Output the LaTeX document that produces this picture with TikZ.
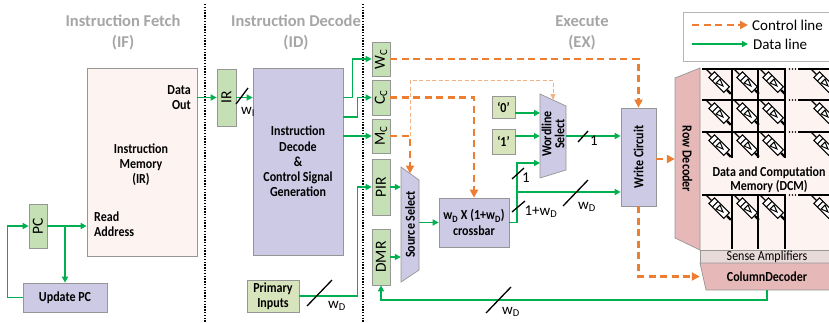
\documentclass[tikz,border=0pt]{standalone}
\usepackage{fontspec}
\setmainfont{Carlito}
\newfontfamily\cf[FakeStretch=0.87,Ligatures=TeX]{Carlito}
\usetikzlibrary{calc,arrows.meta}
\definecolor{dgreen}{RGB}{0,176,80}
\definecolor{dorange}{RGB}{237,125,49}
\definecolor{lorange}{RGB}{244,177,131}
\definecolor{regfill}{RGB}{197,224,180}
\definecolor{ylfill}{RGB}{216,228,188}
\definecolor{lavfill}{RGB}{204,202,228}
\definecolor{pinkbg}{RGB}{253,243,241}
\definecolor{rdfill}{RGB}{230,185,184}
\definecolor{safill}{RGB}{232,218,217}
\definecolor{ttl}{RGB}{166,166,166}
\definecolor{bord}{RGB}{150,150,150}
\tikzset{
 box/.style={draw=bord, line width=0.7pt, inner sep=0pt, align=center, font=\cf\bfseries\fontsize{13.8}{15.3}\selectfont},
 reg/.style={box, fill=regfill},
 rot/.style={rotate=90, inner sep=0pt, font=\fontsize{15.5}{17}\selectfont},
 rotb/.style={rotate=90, inner sep=0pt, align=center, font=\cf\bfseries\fontsize{13.8}{13}\selectfont},
 ghost/.style={inner sep=0pt, draw=none},
 txt/.style={inner sep=0pt, align=center, font=\cf\bfseries\fontsize{13.8}{15.3}\selectfont},
 title/.style={inner sep=0pt, align=center, text=ttl, font=\bfseries\fontsize{16.5}{21}\selectfont},
 lbl/.style={inner sep=0pt, font=\fontsize{15}{17}\selectfont},
 data/.style={draw=dgreen, line width=1.5pt, -{Triangle[length=6pt,width=6pt]}},
 ctrl/.style={draw=dorange, line width=2.4pt, dash pattern=on 7pt off 4.5pt, -{Triangle[length=8pt,width=8pt]}},
 ctrlthin/.style={draw=lorange, line width=1pt, dash pattern=on 4pt off 2.5pt, -{Triangle[length=6pt,width=5pt]}},
 slsh/.style={draw=black, line width=1.3pt},
 hgrid/.style={line width=1.8pt},
 vgrid/.style={line width=1.3pt},
 sep/.style={line width=1.5pt, dash pattern=on 1.4pt off 1.4pt},
 memr/.pic={
  \draw[line width=1.1pt] (0,0) -- (8,0) (29,0) -- (35,0);
  \draw[line width=1.1pt, fill=white] (8,-4) rectangle (29,4);
  \draw[line width=1.1pt] (13,-4) -- (13,4);
  \draw[line width=1pt] (17,-2.8) -- (24,0) -- (17,2.8) -- cycle;
  \draw[line width=2.2pt] (30,0) -- (35,0);
 }
}
\begin{document}
\begin{tikzpicture}[x=1pt,y=-1pt]
\useasboundingbox (0,0) rectangle (829,322);
\fill[white] (0,0) rectangle (829,322);

% stage separators
\coordinate (s1a) at (205,4); \coordinate (s1b) at (205,322);
\coordinate (s2a) at (363,4); \coordinate (s2b) at (363,322);
\draw[sep] (s1a) -- (s1b);
\draw[sep] (s2a) -- (s2b);

% titles
\node[title] (tif) at (123,32.5) {Instruction Fetch\\(IF)};
\node[title] (tid) at (296,32.5) {Instruction Decode\\(ID)};
\node[title] (tex) at (582,32.5) {Execute\\(EX)};

% ---------- IF ----------
\node[box, fill=pinkbg, minimum width=110pt, minimum height=188pt] (im) at (142,162) {};
\node[txt] (imt) at (141,164.5) {Instruction\\Memory\\(IR)};
\node[txt, anchor=east, align=right] (imo) at (191,97.5) {Data\\Out};
\node[txt, anchor=west, align=left] (ima) at (94,224.5) {Read\\Address};
\node[reg, minimum width=18pt, minimum height=44pt] (pc) at (38,226) {};
\node[rot] (pct) at (pc) {PC};
\node[box, fill=lavfill, minimum width=84pt, minimum height=29pt] (upc) at (65,297.5) {Update PC};
\coordinate (brpc) at (65,226);
\draw[data] (pc.east) -- (pc.east -| im.west);
\draw[data] (brpc) -- (brpc |- upc.north);
\draw[data] (upc.west) -- ++(-15,0) |- (pc.west);

% ---------- ID ----------
\node[reg, minimum width=19pt, minimum height=57pt] (ir) at (226.5,97.5) {};
\node[rot] (irt) at (ir) {IR};
\node[box, fill=lavfill, minimum width=90pt, minimum height=187pt] (id) at (298,161.5) {Instruction\\Decode\\\&\\Control Signal\\Generation};
\node[box, fill=ylfill, minimum width=52pt, minimum height=32pt] (pin) at (273,296) {Primary\\Inputs};
\draw[data] (im.east |- ir.west) -- (ir.west);
\draw[data] (ir.east) -- (ir.east -| id.west);
\draw[slsh] (236,104) -- (248,88);
\node[lbl] (lwi) at (248,112) {w\textsubscript{I}};

% registers
\node[reg, minimum width=18pt, minimum height=34pt] (wc) at (381,59) {};
\node[rot] (wct) at (wc) {W\textsubscript{C}};
\node[reg, minimum width=18pt, minimum height=35pt] (cc) at (381,97.5) {};
\node[rot] (cct) at (cc) {C\textsubscript{C}};
\node[reg, minimum width=18pt, minimum height=34pt] (mc) at (381,136) {};
\node[rot] (mct) at (mc) {M\textsubscript{C}};
\node[reg, minimum width=18pt, minimum height=56pt] (pir) at (381,187) {};
\node[rot] (pirt) at (pir) {PIR};
\node[reg, minimum width=18pt, minimum height=56pt] (dmr) at (381,257) {};
\node[rot] (dmrt) at (dmr) {DMR};

\coordinate (lvl117) at (0,117);
\draw[data] (id.east |- cc.west) -- ++(9,0) |- (wc.west);
\draw[data] (id.east |- lvl117) -- ++(14,0) |- (cc.west);
\draw[data] (id.east |- mc.west) -- (mc.west);
\draw[data] (pin.east) -- ++(58,0) |- (pir.west);
\draw[slsh] (307,306) -- (332,280);
\node[lbl] (lwd1) at (337,306) {w\textsubscript{D}};

% ---------- EX ----------
% source select
\draw[draw=bord, fill=lavfill, line width=0.7pt] (401,167) -- (419,180) -- (419,270) -- (401,282) -- cycle;
\node[ghost, minimum width=18pt, minimum height=115pt] (ss) at (410,224.5) {};
\node[rotb] (sst) at (ss) {Source Select};
\coordinate (ssn) at (410,173.5);

% wordline select
\draw[draw=bord, fill=lavfill, line width=0.7pt] (540,94) -- (566,106) -- (566,170) -- (540,178) -- cycle;
\node[ghost, minimum width=26pt, minimum height=84pt] (wl) at (553,136) {};
\node[rotb] (wlt) at (553,134) {Wordline\\Select};
\coordinate (wltop) at (553,100);
\coordinate (wl0) at (540,113);
\coordinate (wl2) at (540,163);

\node[box, fill=ylfill, minimum width=23pt, minimum height=22pt] (zero) at (503.5,107) {‘0’};
\node[box, fill=ylfill, minimum width=23pt, minimum height=25pt] (one) at (503.5,141.5) {‘1’};
\node[box, fill=lavfill, minimum width=70pt, minimum height=49pt] (xbar) at (474,222.5) {w\textsubscript{D} X (1+w\textsubscript{D})\\crossbar};
\node[box, fill=lavfill, minimum width=35pt, minimum height=98pt] (wcirc) at (638.5,157) {};
\node[rotb] (wcirct) at (wcirc) {Write Circuit};

% DCM
\node[ghost, fill=pinkbg, minimum width=136pt, minimum height=182pt, anchor=north west] (dcm) at (700,68) {};
\foreach \yy in {69,100,132,195} {
  \draw[hgrid] (702,\yy) -- (786,\yy);
  \draw[hgrid] (798,\yy) -- (836,\yy);
  \fill (789.5,\yy) circle (0.8pt) (792.5,\yy) circle (0.8pt) (795.5,\yy) circle (0.8pt);
}
\foreach \xx in {732,758,785} {
  \draw[vgrid] (\xx,69) -- (\xx,158);
  \draw[vgrid] (\xx,195) -- (\xx,249);
}
\foreach \yy in {69,100,132,195} {
  \foreach \xx in {706,734,760,811} {
    \pic[rotate=-45] at (\xx,\yy) {memr};
  }
}
\node[txt, align=center, font=\cf\bfseries\fontsize{13.8}{14}\selectfont] (dcmt) at (769,180) {Data and Computation\\Memory (DCM)};

% row decoder
\draw[draw=bord, fill=rdfill, line width=0.7pt] (675,78) -- (700,68) -- (700,250) -- (675,238) -- cycle;
\node[ghost, minimum width=25pt, minimum height=182pt] (rd) at (687.5,159) {};
\node[rotb, rotate=180] (rdt) at (rd) {Row Decoder};

% sense amplifiers and column decoder
\node[draw=bord, fill=safill, line width=0.7pt, inner sep=0pt, minimum width=136pt, minimum height=13pt, anchor=north west] (sa) at (700,250) {};
\node[inner sep=0pt, font=\cf\fontsize{13.8}{14}\selectfont] (sat) at (767,257) {Sense Amplifiers};
\draw[draw=bord, fill=rdfill, line width=0.7pt] (700,263) -- (836,263) -- (830,290) -- (706,290) -- cycle;
\node[ghost, minimum width=134pt, minimum height=27pt] (cd) at (767,276.5) {};
\node[txt] (cdt) at (767,277) {ColumnDecoder};

% EX connections
\coordinate (bx) at (517,192);
\draw[ctrl] (wc.east) -| (wcirc.north);
\draw[ctrl] (cc.east) -| (xbar.north);
\draw[ctrlthin] (mc.east -| ssn) -- ++(0,-56) -| (wltop);
\draw[ctrl] (mc.east) -| (ssn);
\draw[data] (pir.east) -- (pir.east -| ss.west);
\draw[data] (dmr.east) -- (dmr.east -| ss.west);
\draw[data] (ss.east |- xbar.west) -- (xbar.west);
\draw[data] (zero.east |- wl0) -- (wl0);
\draw[data] (one.east |- wl.west) -- (wl.west);
\draw[data] (xbar.east) -| (bx) |- (wl2);
\draw[data] (bx) -- (bx -| wcirc.west);
\draw[data] (wl.east) -- (wl.east -| wcirc.west);
\draw[ctrl] (wcirc.east |- rd.west) -- (rd.west);
\draw[ctrl] (wcirc.south) |- (cd.west);
\draw[data] (cd.south) -- ++(0,10) -| (dmr.south);

% slashes and labels
\draw[slsh] (578,142) -- (588,131);
\node[lbl] (l1a) at (594,141) {1};
\draw[slsh] (512,179) -- (524,168);
\node[lbl] (l1b) at (526,178) {1};
\draw[slsh] (512,212) -- (525,201);
\node[lbl] (l1c) at (541,212) {1+w\textsubscript{D}};
\draw[slsh] (563,206) -- (588,180);
\node[lbl] (lwd2) at (587,207) {w\textsubscript{D}};
\draw[slsh] (486,313) -- (511,287);
\node[lbl] (lwd3) at (511,312) {w\textsubscript{D}};

% legend
\node[draw=bord!70, fill=white, line width=0.7pt, inner sep=0pt, minimum width=152pt, minimum height=49pt, anchor=north west] (leg) at (683,12) {};
\coordinate (lg1a) at (692,25); \coordinate (lg1b) at (748,25);
\coordinate (lg2a) at (692,44); \coordinate (lg2b) at (748,44);
\draw[ctrl] (lg1a) -- (lg1b);
\draw[data] (lg2a) -- (lg2b);
\node[lbl, anchor=west] (lgt1) at (752,25) {Control line};
\node[lbl, anchor=west] (lgt2) at (753,44) {Data line};
\end{tikzpicture}
\end{document}
